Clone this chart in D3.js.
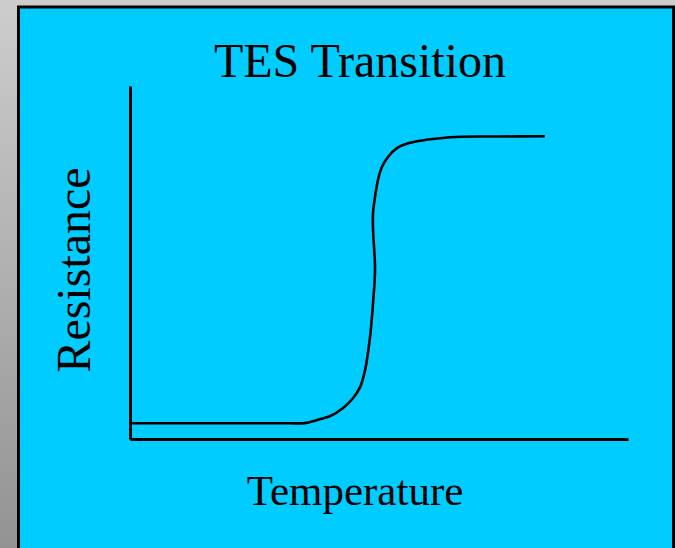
<!DOCTYPE html>
<html>
<head>
<meta charset="utf-8">
<script src="https://cdn.jsdelivr.net/npm/d3@7"></script>
<style>
  html, body { margin: 0; padding: 0; }
  svg { display: block; }
  text { font-family: "Liberation Serif", "Times New Roman", serif; fill: #000; }
</style>
</head>
<body>
<svg id="chart" width="675" height="548"></svg>
<script>
// Data (temperature and resistance, arbitrary units 0-100)
const temperature = [0.2, 12, 24, 32, 35.1, 37.6, 40.2, 42.8, 44.8, 46.2, 47.2, 48.2, 48.8, 49.2, 49.0, 48.8, 48.8, 49.2, 49.8, 50.6, 51.8, 53.6, 56.2, 64.3, 74.3, 83.3];
const resistance  = [4.45, 4.45, 4.45, 4.45, 4.5, 5.4, 6.5, 8.8, 11.6, 14.7, 19.5, 28.9, 38.5, 47.9, 54.4, 59.2, 64.0, 68.6, 73.4, 77.1, 79.9, 82.4, 83.9, 85.5, 85.7, 85.75];
const title = "TES Transition";
const xLabel = "Temperature";
const yLabel = "Resistance";

const svg = d3.select("#chart");
const W = 675, H = 548;

// background gradient
const defs = svg.append("defs");
const grad = defs.append("linearGradient").attr("id", "bg").attr("x1", 0).attr("y1", 0).attr("x2", 0).attr("y2", 1);
grad.append("stop").attr("offset", "0%").attr("stop-color", "#cdcdcd");
grad.append("stop").attr("offset", "100%").attr("stop-color", "#939393");
svg.append("rect").attr("width", W).attr("height", H).attr("fill", "url(#bg)");

// cyan panel
svg.append("rect")
  .attr("x", 18.5).attr("y", 7).attr("width", 655).attr("height", 560)
  .attr("fill", "#00ccff").attr("stroke", "#000").attr("stroke-width", 3);

const x = d3.scaleLinear().domain([0, 100]).range([130, 628]);
const y = d3.scaleLinear().domain([0, 100]).range([439, 86]);

const xAxis = svg.append("g").attr("transform", `translate(0,${y(0)})`)
  .call(d3.axisBottom(x).tickValues([]).tickSizeOuter(0));
const yAxis = svg.append("g").attr("transform", `translate(${x(0)},0)`)
  .call(d3.axisLeft(y).tickValues([]).tickSizeOuter(0));
[xAxis, yAxis].forEach(g => g.select(".domain").attr("stroke", "#000").attr("stroke-width", 3));

const pts = temperature.map((t, i) => [t, resistance[i]]);
const line = d3.line().x(d => x(d[0])).y(d => y(d[1])).curve(d3.curveCatmullRom.alpha(0.5));
svg.append("path").datum(pts).attr("d", line)
  .attr("fill", "none").attr("stroke", "#000").attr("stroke-width", 2.6);

svg.append("text").attr("x", 360).attr("y", 77).attr("text-anchor", "middle")
  .attr("font-size", 48).text(title);
svg.append("text").attr("x", 355).attr("y", 505).attr("text-anchor", "middle")
  .attr("font-size", 43).text(xLabel);
svg.append("text").attr("transform", "translate(90,270) rotate(-90)").attr("text-anchor", "middle")
  .attr("font-size", 48).text(yLabel);
</script>
</body>
</html>
